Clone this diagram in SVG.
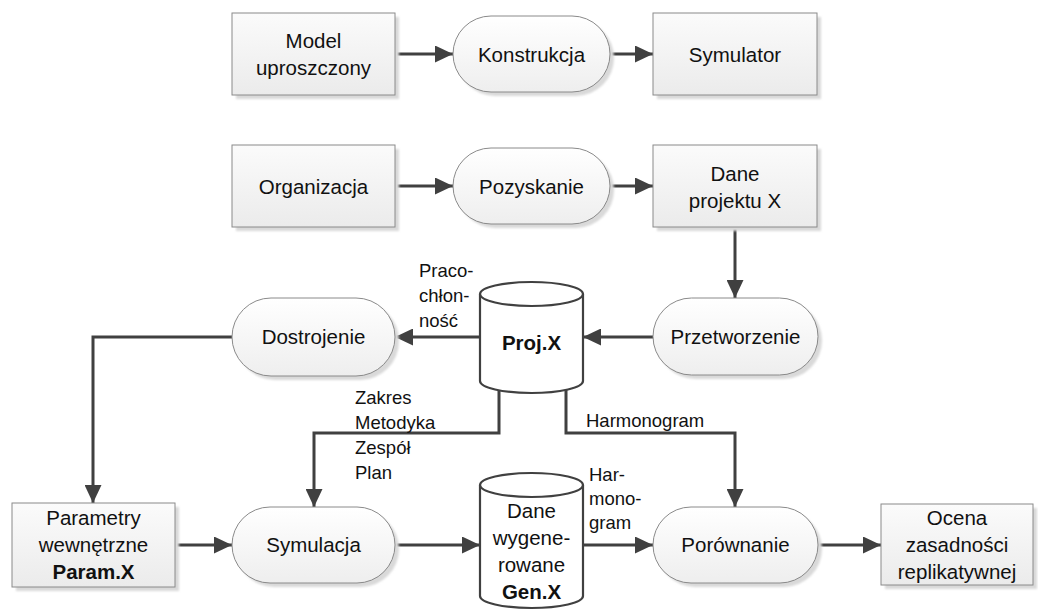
<svg xmlns="http://www.w3.org/2000/svg" width="1038" height="610" viewBox="0 0 1038 610">
  <style>
    .box { stroke: #8a8a8a; stroke-width: 1; fill: url(#boxFill); }
    .term { stroke: #8a8a8a; stroke-width: 1; fill: url(#termFill); }
    .shadow { fill: #d9d9d9; filter: url(#soft); }
    .db { stroke: #404040; stroke-width: 2.2; fill: #ffffff; }
    .t { font-family: "Liberation Sans", Arial, sans-serif; font-size: 20.5px; fill: #111; text-anchor: middle; }
    .b { font-weight: bold; }
    .lbl { font-family: "Liberation Sans", Arial, sans-serif; font-size: 18.5px; fill: #111; }
    .wire { fill: none; stroke: #404040; stroke-width: 3; }
    .arr { marker-end: url(#head); }
  </style>
  <defs>
    <linearGradient id="boxFill" x1="0" y1="0" x2="0" y2="1">
      <stop offset="0" stop-color="#fbfbfb"/>
      <stop offset="1" stop-color="#ebebeb"/>
    </linearGradient>
    <linearGradient id="termFill" x1="0" y1="0" x2="0" y2="1">
      <stop offset="0" stop-color="#ffffff"/>
      <stop offset="1" stop-color="#eeeeee"/>
    </linearGradient>
    <filter id="soft" x="-10%" y="-10%" width="120%" height="130%">
      <feGaussianBlur stdDeviation="1"/>
    </filter>
    <marker id="head" markerUnits="userSpaceOnUse" markerWidth="19" markerHeight="17" refX="18" refY="8.5" orient="auto">
      <path d="M0,0 L18,8.5 L0,17 Z" fill="#404040"/>
    </marker>
  </defs>

  <rect width="1038" height="610" fill="#ffffff"/>

  <!-- connectors -->
  <g id="connectors">
    <path class="wire arr" d="M395 54 H453"/>
    <path class="wire arr" d="M610 54 H653"/>
    <path class="wire arr" d="M395 186 H453"/>
    <path class="wire arr" d="M610 186 H653"/>
    <path class="wire arr" d="M735 227 V298"/>
    <path class="wire arr" d="M653 337 H583"/>
    <path class="wire arr" d="M480 337 H395"/>
    <path class="wire arr" d="M232 337 H93 V503"/>
    <path class="wire arr" d="M499 390 V433 H314 V507"/>
    <path class="wire arr" d="M566 390 V433 H735 V507"/>
    <path class="wire arr" d="M175 545 H232"/>
    <path class="wire arr" d="M395 545 H480"/>
    <path class="wire arr" d="M583 545 H653"/>
    <path class="wire arr" d="M818 545 H881"/>
  </g>

  <!-- connector labels -->
  <g id="labels">
    <text class="lbl" x="419" y="277">Praco-</text>
    <text class="lbl" x="419" y="302">chłon-</text>
    <text class="lbl" x="419" y="327">ność</text>
    <text class="lbl" x="355" y="404">Zakres</text>
    <text class="lbl" x="355" y="429">Metodyka</text>
    <text class="lbl" x="355" y="454">Zespół</text>
    <text class="lbl" x="355" y="479">Plan</text>
    <text class="lbl" x="586" y="427">Harmonogram</text>
    <text class="lbl" x="589" y="481">Har-</text>
    <text class="lbl" x="589" y="505">mono-</text>
    <text class="lbl" x="589" y="529">gram</text>
  </g>

  <!-- row 1 -->
  <g id="model">
    <rect class="shadow" x="236" y="17" width="163" height="82"/>
    <rect class="box" x="232" y="13" width="163" height="82"/>
    <text class="t" x="313.5" y="48">Model</text>
    <text class="t" x="313.5" y="75">uproszczony</text>
  </g>
  <g id="konstrukcja">
    <rect class="shadow" x="457" y="20" width="157" height="76" rx="38"/>
    <rect class="term" x="453" y="16" width="157" height="76" rx="38"/>
    <text class="t" x="531.5" y="61.5">Konstrukcja</text>
  </g>
  <g id="symulator">
    <rect class="shadow" x="657" y="17" width="164" height="82"/>
    <rect class="box" x="653" y="13" width="164" height="82"/>
    <text class="t" x="735" y="61.5">Symulator</text>
  </g>

  <!-- row 2 -->
  <g id="organizacja">
    <rect class="shadow" x="236" y="149" width="163" height="82"/>
    <rect class="box" x="232" y="145" width="163" height="82"/>
    <text class="t" x="313.5" y="193.5">Organizacja</text>
  </g>
  <g id="pozyskanie">
    <rect class="shadow" x="457" y="152" width="157" height="76" rx="38"/>
    <rect class="term" x="453" y="148" width="157" height="76" rx="38"/>
    <text class="t" x="531.5" y="193.5">Pozyskanie</text>
  </g>
  <g id="dane-projektu">
    <rect class="shadow" x="657" y="149" width="164" height="82"/>
    <rect class="box" x="653" y="145" width="164" height="82"/>
    <text class="t" x="735" y="181">Dane</text>
    <text class="t" x="735" y="208">projektu X</text>
  </g>

  <!-- row 3 -->
  <g id="dostrojenie">
    <rect class="shadow" x="236" y="302" width="163" height="78" rx="39"/>
    <rect class="term" x="232" y="298" width="163" height="78" rx="39"/>
    <text class="t" x="313.5" y="344">Dostrojenie</text>
  </g>
  <g id="proj-x">
    <path class="db" d="M480 294 V381 A51.5 12 0 0 0 583 381 V294"/>
    <ellipse class="db" cx="531.5" cy="294" rx="51.5" ry="12"/>
    <text class="t b" x="531.5" y="350">Proj.X</text>
  </g>
  <g id="przetworzenie">
    <rect class="shadow" x="657" y="302" width="165" height="77" rx="38.5"/>
    <rect class="term" x="653" y="298" width="165" height="77" rx="38.5"/>
    <text class="t" x="735.5" y="344">Przetworzenie</text>
  </g>

  <!-- row 4 -->
  <g id="parametry">
    <rect class="shadow" x="16" y="507" width="163" height="84"/>
    <rect class="box" x="12" y="503" width="163" height="84"/>
    <text class="t" x="93.5" y="525">Parametry</text>
    <text class="t" x="93.5" y="552">wewnętrzne</text>
    <text class="t b" x="93.5" y="579">Param.X</text>
  </g>
  <g id="symulacja">
    <rect class="shadow" x="236" y="511" width="163" height="76" rx="38"/>
    <rect class="term" x="232" y="507" width="163" height="76" rx="38"/>
    <text class="t" x="313.5" y="552">Symulacja</text>
  </g>
  <g id="gen-x">
    <path class="db" d="M480 485 V596 A51.5 12 0 0 0 583 596 V485"/>
    <ellipse class="db" cx="531.5" cy="485" rx="51.5" ry="12"/>
    <text class="t" x="531.5" y="518">Dane</text>
    <text class="t" x="531.5" y="545">wygene-</text>
    <text class="t" x="531.5" y="572">rowane</text>
    <text class="t b" x="531.5" y="599">Gen.X</text>
  </g>
  <g id="porownanie">
    <rect class="shadow" x="657" y="511" width="165" height="76" rx="38"/>
    <rect class="term" x="653" y="507" width="165" height="76" rx="38"/>
    <text class="t" x="735.5" y="552">Porównanie</text>
  </g>
  <g id="ocena">
    <rect class="shadow" x="885" y="508" width="152" height="81"/>
    <rect class="box" x="881" y="504" width="152" height="81"/>
    <text class="t" x="957" y="525">Ocena</text>
    <text class="t" x="957" y="552">zasadności</text>
    <text class="t" x="957" y="579">replikatywnej</text>
  </g>
</svg>
